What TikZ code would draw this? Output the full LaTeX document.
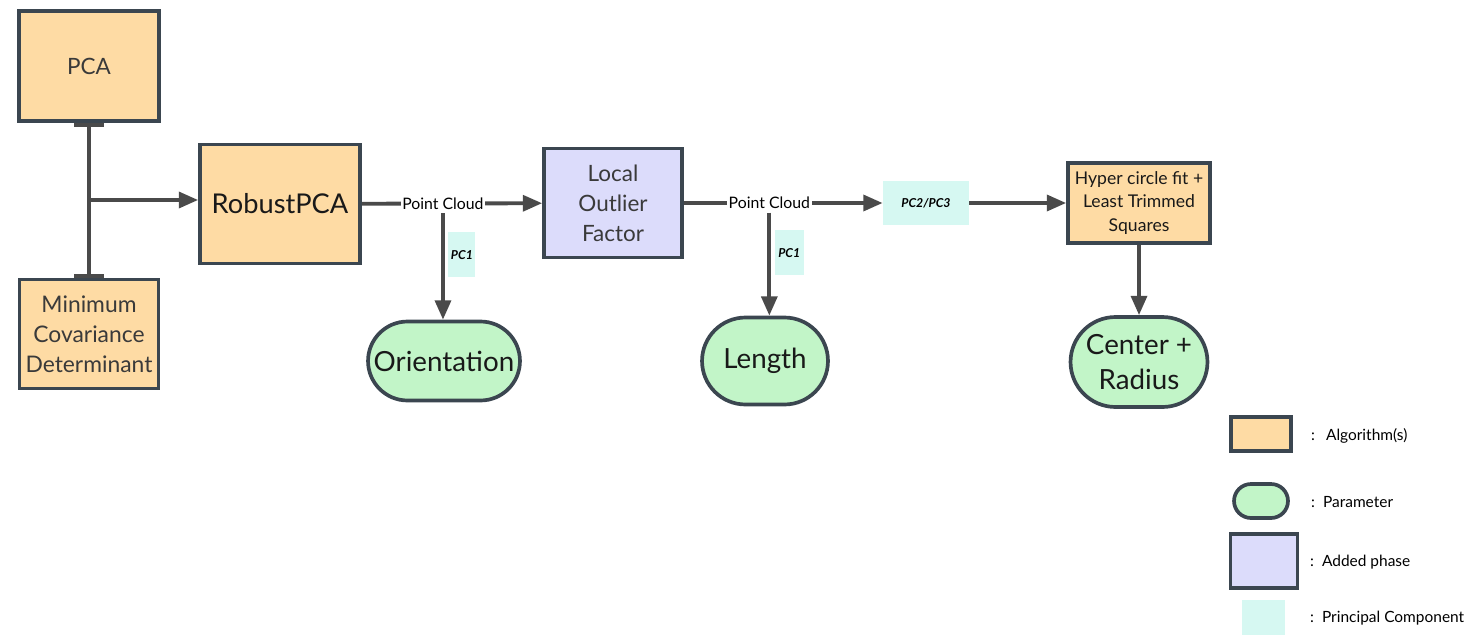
\documentclass[tikz,border=0pt]{standalone}
\usepackage{fontspec}
\setmainfont{Lato}
\usetikzlibrary{arrows.meta,shapes.misc,positioning}

\definecolor{edgecol}{HTML}{3B4650}
\definecolor{linecol}{HTML}{4A4A4A}
\definecolor{txtcol}{HTML}{3A3A3A}
\definecolor{algofill}{HTML}{FEDBA4}
\definecolor{phasefill}{HTML}{DCDCFB}
\definecolor{paramfill}{HTML}{C2F5C8}
\definecolor{pcfill}{HTML}{D6F8F2}

\tikzset{
  algo/.style={draw=edgecol, line width=2.1pt, fill=algofill, align=center, inner sep=2pt, text=txtcol},
  phase/.style={algo, fill=phasefill},
  param/.style={rounded rectangle, draw=edgecol, line width=2.1pt, fill=paramfill, align=center, inner sep=2pt, text=black!90},
  pcbox/.style={fill=pcfill, inner sep=0pt, font=\fontsize{7}{8}\selectfont\bfseries\itshape},
  cloud/.style={fill=white, inner sep=1pt, font=\fontsize{9}{10}\selectfont},
  flow/.style={draw=linecol, line width=2.2pt, -{Triangle[length=11pt,width=9pt]}},
  legtext/.style={anchor=west, font=\fontsize{8.8}{10}\selectfont},
}

\begin{document}
\begin{tikzpicture}[%
x=0.02cm, y=-0.02cm,
]
\useasboundingbox (0,0) rectangle (1473,635);
%% algorithms;
\node[algo, minimum width=2.8cm, minimum height=2.2cm, font=\fontsize{12.8}{17}\selectfont] (PCA) at (89,66) {PCA};
\node[algo, minimum width=2.78cm, minimum height=2.18cm, font=\fontsize{13}{17}\selectfont] (MCD) at (89,334) {Minimum\\Covariance\\Determinant};
\node[algo, minimum width=3.2cm, minimum height=2.38cm, font=\fontsize{15.5}{17}\selectfont, text=black!90] (RPCA) at (280,204) {RobustPCA};
\node[phase, minimum width=2.76cm, minimum height=2.18cm, font=\fontsize{12.8}{17}\selectfont] (LOF) at (613,203) {Local\\Outlier\\Factor};
\node[pcbox, minimum width=1.72cm, minimum height=0.9cm] (PCtwo) at (926,203) {PC2/PC3};
\node[algo, minimum width=2.84cm, minimum height=1.6cm, font=\fontsize{10}{13.2}\selectfont, text=black!90] (HCF) at (1139,203) {Hyper circle fit +\\Least Trimmed\\Squares};
%% parameters;
\node[param, minimum width=3.18cm, minimum height=1.58cm, font=\fontsize{15.8}{20}\selectfont] (Orient) at (444,361) {Orientation};
\node[param, minimum width=2.66cm, minimum height=1.74cm, font=\fontsize{15.8}{20}\selectfont] (Len) at (765,361) {Length};
\node[param, minimum width=2.88cm, minimum height=1.8cm, font=\fontsize{15.8}{20}\selectfont] (CR) at (1139,362) {Center +\\Radius};
%% connectors;
\draw[draw=linecol, line width=2.2pt, {Bar[width=17pt]}-{Bar[width=17pt]}] (PCA) -- (MCD);
\coordinate (split) at (PCA.south |- 0,200);
\draw[flow] (split) -- (split -| RPCA.west);
\draw[flow] (RPCA) -- node[cloud, pos=0.45] (cloudA) {Point Cloud} (LOF);
\draw[flow] (cloudA.south) -- node[pcbox, anchor=west, xshift=2pt, pos=0.39, minimum width=0.54cm, minimum height=0.9cm] (PConeA) {PC1} (cloudA.south |- Orient.north);
\draw[flow] (LOF) -- node[cloud, pos=0.43] (cloudB) {Point Cloud} (PCtwo);
\draw[flow] (cloudB.south) -- node[pcbox, anchor=west, xshift=2pt, pos=0.39, minimum width=0.58cm, minimum height=0.9cm] (PConeB) {PC1} (cloudB.south |- Len.north);
\draw[flow] (PCtwo) -- (HCF);
\draw[flow] (HCF) -- (CR);
%% legend;
\node[algo, minimum width=1.2cm, minimum height=0.68cm] (legAlgo) at (1261,434) {};
\node[param, minimum width=1.22cm, minimum height=0.68cm] (legParam) at (1261,501) {};
\node[phase, minimum width=1.34cm, minimum height=1.08cm] (legPhase) at (1264,561) {};
\node[pcbox, minimum width=0.86cm, minimum height=0.7cm] (legPC) at (1263,617) {};
\node[legtext] (txtAlgo) at (1305,436) {:\hspace{2.2mm}Algorithm(s)};
\node[legtext] (txtParam) at (1305,502) {:\hspace{1.6mm}Parameter};
\node[legtext] (txtPhase) at (1304,562) {:\hspace{1.6mm}Added phase};
\node[legtext] (txtPC) at (1304,618) {:\hspace{1.6mm}Principal Component};
\end{tikzpicture}
\end{document}
